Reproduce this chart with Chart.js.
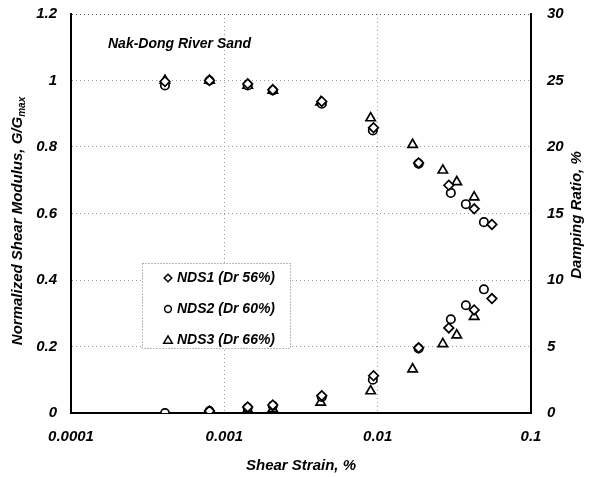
<!DOCTYPE html>
<html>
<head>
<meta charset="utf-8">
<script src="https://cdn.jsdelivr.net/npm/chart.js@4/dist/chart.umd.min.js"></script>
<style>
  html, body { margin: 0; padding: 0; background: #fff; }
  #wrap { width: 590px; height: 477px; position: relative; }
</style>
</head>
<body>
<div id="wrap"><canvas id="c" width="590" height="477"></canvas></div>
<script>
// Axis ticks
const strainTicks = [0.0001, 0.001, 0.01, 0.1];
const strainLabels = ['0.0001', '0.001', '0.01', '0.1'];
const modulusTicks = [0, 0.2, 0.4, 0.6, 0.8, 1, 1.2];
const modulusLabels = ['0', '0.2', '0.4', '0.6', '0.8', '1', '1.2'];
const dampingTicks = [0, 5, 10, 15, 20, 25, 30];

// Legend names
const seriesNames = ['NDS1 (Dr 56%)', 'NDS2 (Dr 60%)', 'NDS3 (Dr 66%)'];

// NDS1 (Dr 56%)
const nds1ModStrain = [0.00041, 0.00080, 0.00142, 0.00207, 0.00432, 0.0094, 0.0185, 0.0291, 0.0426, 0.0556];
const nds1Mod       = [0.997, 1.0, 0.99, 0.972, 0.937, 0.858, 0.752, 0.685, 0.614, 0.567];
const nds1DampStrain = [0.00080, 0.00142, 0.00207, 0.00432, 0.0094, 0.0185, 0.0291, 0.0426, 0.0556];
const nds1Damp       = [0.15, 0.45, 0.6, 1.3, 2.8, 4.9, 6.4, 7.75, 8.6];

// NDS2 (Dr 60%)
const nds2ModStrain = [0.00041, 0.00080, 0.00142, 0.00207, 0.00432, 0.0093, 0.0185, 0.0300, 0.0376, 0.0493];
const nds2Mod       = [0.985, 1.0, 0.985, 0.97, 0.93, 0.85, 0.75, 0.662, 0.628, 0.574];
const nds2DampStrain = [0.00041, 0.00080, 0.00142, 0.00207, 0.00432, 0.0093, 0.0185, 0.0300, 0.0376, 0.0493];
const nds2Damp       = [0.0, 0.15, 0.4, 0.55, 1.2, 2.5, 4.85, 7.05, 8.1, 9.3];

// NDS3 (Dr 66%)
const nds3ModStrain = [0.00041, 0.00080, 0.00142, 0.00207, 0.00425, 0.0090, 0.0169, 0.0266, 0.0328, 0.0426];
const nds3Mod       = [1.0, 1.0, 0.985, 0.97, 0.935, 0.887, 0.807, 0.73, 0.695, 0.649];
const nds3DampStrain = [0.00142, 0.00207, 0.00425, 0.0090, 0.0169, 0.0266, 0.0328, 0.0426];
const nds3Damp       = [0.25, 0.3, 0.8, 1.65, 3.3, 5.2, 5.85, 7.25];

const FONT_FAMILY = '"Liberation Sans", Arial, Helvetica, sans-serif';
const tickFont = { family: FONT_FAMILY, size: 15, weight: 'bold', style: 'italic' };

const pts = (xs, ys) => xs.map((x, i) => ({ x: x, y: ys[i] }));

function markerSet(label, data, axis, style, radius) {
  return {
    label: label,
    data: data,
    yAxisID: axis,
    showLine: false,
    pointStyle: style,
    pointRadius: radius,
    pointBackgroundColor: '#ffffff',
    pointBorderColor: '#000000',
    pointBorderWidth: 1.7,
    pointHoverRadius: radius
  };
}

const markerStyles = ['rectRot', 'circle', 'triangle'];
const markerRadii = [4.8, 4.2, 5.4];

// Fixed gutter around the plot: vertical axes keep their width and add no extra top/bottom margin
const fitVertical = width => s => {
  s.width = width;
  s.paddingTop = 0;
  s.paddingBottom = 0;
};

// Axis titles, sample label and the boxed legend
const decorPlugin = {
  id: 'decor',
  afterDraw(chart) {
    const ctx = chart.ctx;
    const area = chart.chartArea;
    ctx.save();
    ctx.fillStyle = '#000';

    // x title
    ctx.font = 'italic bold 15px ' + FONT_FAMILY;
    ctx.textAlign = 'center';
    ctx.textBaseline = 'middle';
    ctx.fillText('Shear Strain, %', (area.left + area.right) / 2, 466);

    // left title with subscript
    const main = 'Normalized Shear Modulus, G/G';
    const sub = 'max';
    ctx.font = 'italic bold 15px ' + FONT_FAMILY;
    const wMain = ctx.measureText(main).width;
    ctx.font = 'italic bold 10px ' + FONT_FAMILY;
    const wSub = ctx.measureText(sub).width;
    const total = wMain + wSub;
    ctx.save();
    ctx.translate(18, 221);
    ctx.rotate(-Math.PI / 2);
    ctx.textAlign = 'left';
    ctx.textBaseline = 'middle';
    ctx.font = 'italic bold 15px ' + FONT_FAMILY;
    ctx.fillText(main, -total / 2, 0);
    ctx.font = 'italic bold 10px ' + FONT_FAMILY;
    ctx.fillText(sub, -total / 2 + wMain, 4);
    ctx.restore();

    // right title
    ctx.save();
    ctx.translate(577, 215);
    ctx.rotate(-Math.PI / 2);
    ctx.textAlign = 'center';
    ctx.textBaseline = 'middle';
    ctx.font = 'italic bold 15px ' + FONT_FAMILY;
    ctx.fillText('Damping Ratio, %', 0, 0);
    ctx.restore();

    // sample name
    ctx.textAlign = 'left';
    ctx.textBaseline = 'middle';
    ctx.font = 'italic bold 14px ' + FONT_FAMILY;
    ctx.fillText('Nak-Dong River Sand', 108, 44);

    // legend box
    const bx = 142, by = 263, bw = 148, bh = 85;
    ctx.fillStyle = '#fff';
    ctx.fillRect(bx, by, bw, bh);
    ctx.setLineDash([1, 2]);
    ctx.strokeStyle = '#777';
    ctx.lineWidth = 1;
    ctx.strokeRect(bx + 0.5, by + 0.5, bw, bh);
    ctx.setLineDash([]);

    const rowY = [278, 309, 340];
    const mx = 168;
    ctx.strokeStyle = '#000';
    ctx.lineWidth = 1.5;
    rowY.forEach((y, i) => {
      ctx.fillStyle = '#fff';
      ctx.beginPath();
      if (i === 0) {
        ctx.moveTo(mx, y - 3.8); ctx.lineTo(mx + 3.8, y); ctx.lineTo(mx, y + 3.8); ctx.lineTo(mx - 3.8, y); ctx.closePath();
      } else if (i === 1) {
        ctx.arc(mx, y, 3.4, 0, Math.PI * 2);
      } else {
        ctx.moveTo(mx, y - 4); ctx.lineTo(mx + 4.3, y + 3.2); ctx.lineTo(mx - 4.3, y + 3.2); ctx.closePath();
      }
      ctx.fill();
      ctx.stroke();
      ctx.fillStyle = '#000';
      ctx.font = 'italic bold 14px ' + FONT_FAMILY;
      ctx.textAlign = 'left';
      ctx.textBaseline = 'middle';
      ctx.fillText(seriesNames[i], 177, y + 0.5);
    });
    ctx.restore();
  }
};

const datasets = [
  markerSet(seriesNames[0], pts(nds1ModStrain, nds1Mod), 'y', markerStyles[0], markerRadii[0]),
  markerSet(seriesNames[1], pts(nds2ModStrain, nds2Mod), 'y', markerStyles[1], markerRadii[1]),
  markerSet(seriesNames[2], pts(nds3ModStrain, nds3Mod), 'y', markerStyles[2], markerRadii[2]),
  markerSet(seriesNames[0], pts(nds1DampStrain, nds1Damp), 'y2', markerStyles[0], markerRadii[0]),
  markerSet(seriesNames[1], pts(nds2DampStrain, nds2Damp), 'y2', markerStyles[1], markerRadii[1]),
  markerSet(seriesNames[2], pts(nds3DampStrain, nds3Damp), 'y2', markerStyles[2], markerRadii[2])
];

new Chart(document.getElementById('c'), {
  type: 'scatter',
  data: { datasets: datasets },
  options: {
    responsive: false,
    animation: false,
    events: [],
    layout: { padding: { top: 14, left: 0, right: 0, bottom: 0 } },
    plugins: { legend: { display: false }, tooltip: { enabled: false } },
    scales: {
      x: {
        type: 'logarithmic',
        position: 'bottom',
        min: 0.0001,
        max: 0.1,
        afterBuildTicks: s => { s.ticks = strainTicks.map(v => ({ value: v })); },
        afterFit: s => { s.height = 64; s.paddingLeft = 0; s.paddingRight = 0; },
        ticks: {
          autoSkip: false,
          maxRotation: 0,
          padding: 15,
          color: '#000',
          font: tickFont,
          callback: (v) => { const i = strainTicks.indexOf(v); return i >= 0 ? strainLabels[i] : ''; }
        },
        grid: {
          drawTicks: false,
          lineWidth: 1,
          color: c => (c.tick && (c.tick.value === 0.001 || c.tick.value === 0.01)) ? '#9a9a9a' : 'rgba(0,0,0,0)'
        },
        border: { display: true, color: '#000', width: 2, dash: [1, 3] }
      },
      y: {
        position: 'left',
        min: 0,
        max: 1.2,
        afterBuildTicks: s => { s.ticks = modulusTicks.map(v => ({ value: v })); },
        afterFit: fitVertical(71),
        ticks: {
          padding: 14,
          color: '#000',
          font: tickFont,
          callback: (v) => { const i = modulusTicks.indexOf(v); return i >= 0 ? modulusLabels[i] : ''; }
        },
        grid: {
          drawTicks: false,
          lineWidth: 1,
          color: c => {
            if (!c.tick) return 'rgba(0,0,0,0)';
            if (c.tick.value === 0) return 'rgba(0,0,0,0)';
            if (c.tick.value === 1.2) return '#555';
            return '#9a9a9a';
          }
        },
        border: { display: true, color: '#000', width: 2, dash: [1, 3] }
      },
      y2: {
        position: 'right',
        min: 0,
        max: 30,
        afterBuildTicks: s => { s.ticks = dampingTicks.map(v => ({ value: v })); },
        afterFit: fitVertical(59),
        ticks: {
          padding: 16,
          color: '#000',
          font: tickFont,
          callback: v => String(v)
        },
        grid: { drawOnChartArea: false, drawTicks: false },
        border: { display: true, color: '#000', width: 2 }
      }
    }
  },
  plugins: [decorPlugin]
});
</script>
</body>
</html>
